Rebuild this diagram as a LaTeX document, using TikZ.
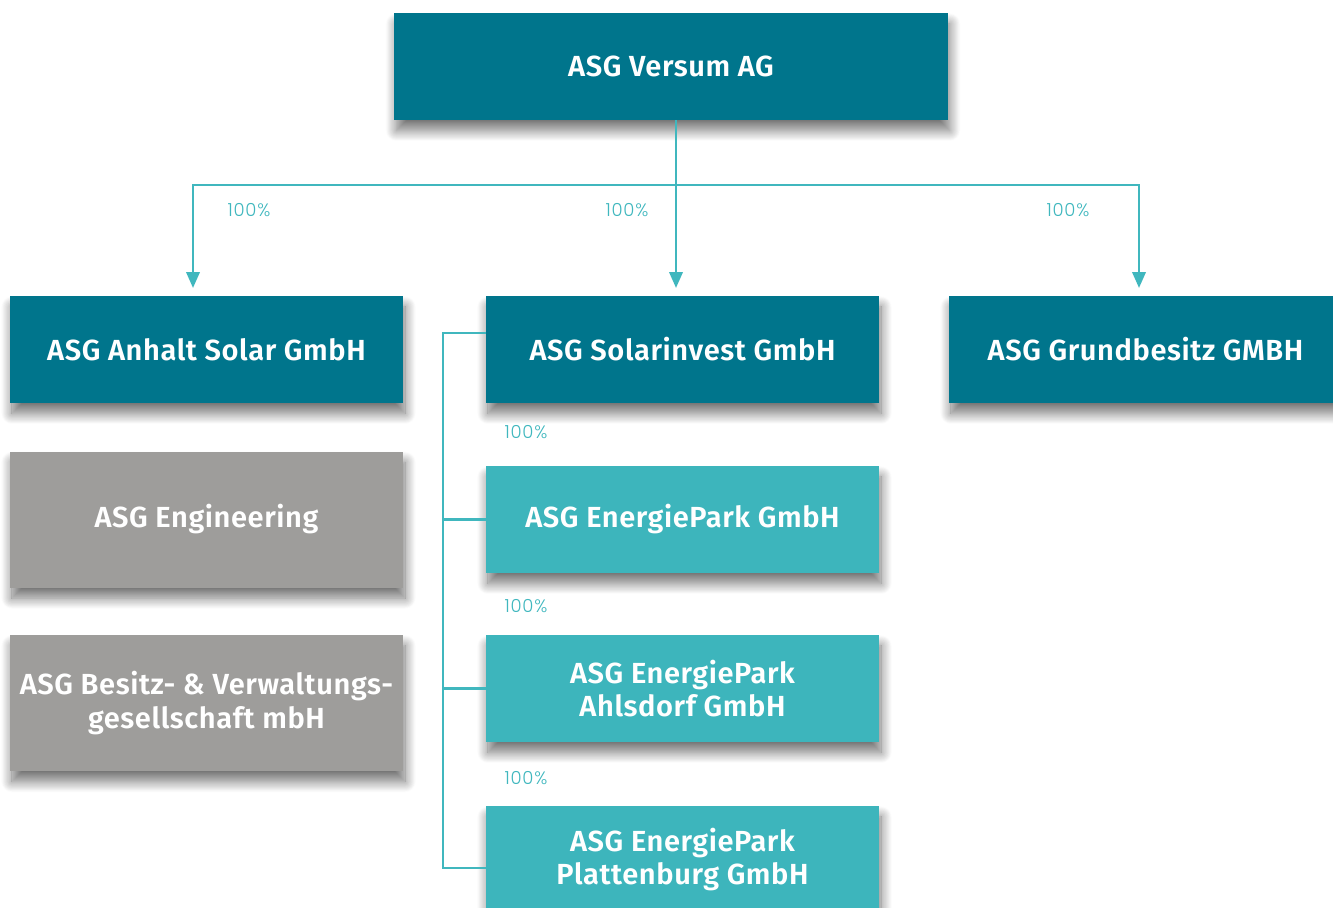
\documentclass[tikz,border=0pt]{standalone}
\usepackage{fontspec}
\setmainfont{Fira Sans}[BoldFont={* SemiBold}, LetterSpace=2]
\newfontfamily\pctfont{Poppins}[UprightFont={* Light}, LetterSpace=4]
\usepackage{tikz}
\usetikzlibrary{arrows.meta, positioning, calc, shadows, shadows.blur}
\definecolor{holdcolor}{RGB}{0, 117, 140}
\definecolor{parkcolor}{RGB}{61, 181, 188}
\definecolor{servicecolor}{RGB}{158, 157, 155}
\definecolor{linkcolor}{RGB}{64, 183, 190}

\begin{document}
\begin{tikzpicture}[x=0.75pt, y=-0.75pt,
    company/.style={fill=holdcolor, text=white, font=\fontsize{21.8}{25}\selectfont\bfseries,
        align=center, minimum width=295pt, minimum height=80pt, inner sep=0pt,
        blur shadow={shadow xshift=1.5pt, shadow yshift=-8pt, shadow blur radius=8pt,
            shadow blur steps=20, shadow opacity=55}},
    park/.style={company, fill=parkcolor},
    service/.style={company, fill=servicecolor, minimum height=102pt},
    link/.style={draw=linkcolor, line width=2pt},
    arrow/.style={link, -{Triangle[width=10pt, length=12pt]}},
    pct/.style={text=linkcolor, font=\pctfont\fontsize{13.5}{15}\selectfont, inner sep=0pt}]
    \useasboundingbox (0,0) rectangle (1333,907);

    % Holding
    \node[company, minimum width=415pt] (versum) at (671, 66.5) {ASG Versum AG};

    % First level
    \node[company] (anhalt) at (206.5, 349.5) {ASG Anhalt Solar GmbH};
    \node[company] (solar) at (682.5, 349.5) {ASG Solarinvest GmbH};
    \node[company] (grund) at (1145.5, 349.5) {ASG Grundbesitz GMBH};

    % Services
    \node[service] (engin) at (206.5, 519.5) {ASG Engineering};
    \node[service] (besitz) at (206.5, 703) {ASG Besitz- \& Verwaltungs-\\gesellschaft mbH};

    % Parks
    \node[park] (epark) at (682.5, 519.5) {ASG EnergiePark GmbH};
    \node[park] (ahls) at (682.5, 688.5) {ASG EnergiePark\\Ahlsdorf GmbH};
    \node[park] (platt) at (682.5, 859.5) {ASG EnergiePark\\Plattenburg GmbH};

    % Top connectors
    \coordinate (split) at (676, 185);
    \coordinate (tipA) at (193, 288);
    \coordinate (tipB) at (676, 288);
    \coordinate (tipC) at (1139, 288);
    \draw[link] (split |- versum.south) -- (split);
    \draw[arrow] (split) -| (tipA);
    \draw[arrow] (split) -- (tipB);
    \draw[arrow] (split) -| (tipC);
    \node[pct] (pctA) at (249, 210) {100\%};
    \node[pct] (pctB) at (627, 210) {100\%};
    \node[pct] (pctC) at (1068, 210) {100\%};

    % Park bracket
    \coordinate (busTop) at (443, 333);
    \coordinate (busEnd) at (443, 868);
    \draw[link] (solar.west |- busTop) -- (busTop) -- (busEnd) -- (platt.west |- busEnd);
    \draw[link] (busTop |- epark.west) -- (epark.west);
    \draw[link] (busTop |- ahls.west) -- (ahls.west);
    \node[pct] (pctD) at (526, 432) {100\%};
    \node[pct] (pctE) at (526, 606) {100\%};
    \node[pct] (pctF) at (526, 778) {100\%};

\end{tikzpicture}
\end{document}
